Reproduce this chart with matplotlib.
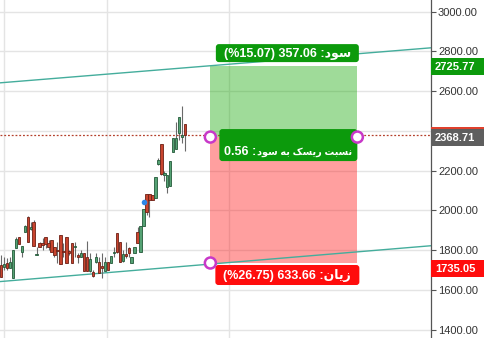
import matplotlib
matplotlib.use("Agg")
import matplotlib.pyplot as plt
from matplotlib.patches import FancyBboxPatch, Circle, Rectangle

W, H, DPI = 485, 338, 100

# Daily candles (index = bar number)
opens = [1725, 1717, 1733, 1712, 1658, 1809, 1864, 1792, 1893, 1968,
         1908, 1943, 1774, 1837, 1834, 1868, 1834, 1851, 1814, 1798,
         1874, 1793, 1864, 1792, 1837, 1814, 1775, 1767, 1784, 1767,
         1697, 1692, 1742, 1742, 1715, 1697, 1742, 1737, 1784, 1884,
         1842, 1747, 1778, 1809, 1733, 1784, 1893, 1792, 1921, 2081,
         2081, 2077, 2061, 2232, 2332, 2180, 2116, 2123, 2292, 2309,
         2389, 2371, 2434]
highs = [1775, 1767, 1759, 1767, 1800, 1868, 1868, 1821, 1926, 1972,
         1943, 1951, 1817, 1842, 1859, 1868, 1851, 1851, 1814, 1842,
         1876, 1834, 1868, 1800, 1837, 1842, 1784, 1800, 1784, 1848,
         1784, 1700, 1784, 1767, 1784, 1767, 1742, 1770, 1817, 1884,
         1842, 1800, 1842, 1817, 1767, 1817, 1918, 1921, 2005, 2081,
         2081, 2077, 2166, 2262, 2332, 2200, 2178, 2248, 2362, 2445,
         2470, 2525, 2434]
lows = [1666, 1700, 1700, 1708, 1658, 1809, 1831, 1767, 1893, 1842,
        1901, 1822, 1774, 1817, 1800, 1809, 1800, 1792, 1767, 1733,
        1730, 1767, 1733, 1775, 1733, 1767, 1733, 1767, 1697, 1697,
        1692, 1666, 1733, 1683, 1658, 1697, 1700, 1737, 1767, 1784,
        1738, 1742, 1759, 1767, 1733, 1784, 1834, 1792, 1921, 1977,
        1965, 2052, 2061, 2228, 2178, 2150, 2086, 2123, 2292, 2309,
        2354, 2339, 2300]
closes = [1666, 1730, 1708, 1738, 1800, 1854, 1831, 1821, 1921, 1842,
          1915, 1822, 1780, 1817, 1827, 1831, 1814, 1792, 1774, 1796,
          1730, 1791, 1733, 1787, 1733, 1821, 1764, 1784, 1697, 1697,
          1754, 1670, 1767, 1686, 1712, 1738, 1700, 1770, 1792, 1789,
          1738, 1779, 1772, 1784, 1767, 1817, 1837, 1921, 2005, 1993,
          2052, 2052, 2166, 2253, 2183, 2188, 2178, 2248, 2362, 2364,
          2470, 2379, 2379]

last_price = 2379.0

# Long position tool
entry_price = 2368.71
target_price = 2725.77
stop_price = 1735.05
position_start = 70.5
position_end = 120.0

# Parallel channel (two anchor points per line)
channel_x = [0, 140]
channel_lower = [1642, 1816]
channel_upper = [2642, 2812]

# Single marker
marker_x = 48.3
marker_price = 2040

# Axis setup
time_grid = [1.0, 35.7, 76.8]
price_ticks = [1400, 1600, 1800, 2000, 2200, 2400, 2600, 2800, 3000]
y_min, y_max = 1357.7, 3058.4
x_min, x_max = -0.34, 144.8

UP_FILL, UP_EDGE = "#55a274", "#245a3a"
DN_FILL, DN_EDGE = "#c8442e", "#6e2015"
WICK = "#6a6a6a"
GREEN = "#0c9a0c"
RED = "#ff0d0d"
ANCHOR = "#c838c8"

fig = plt.figure(figsize=(W / DPI, H / DPI), dpi=DPI)
ax = fig.add_axes([0, 0, 431 / W, 1])
ax.set_xlim(x_min, x_max)
ax.set_ylim(y_min, y_max)
ax.set_facecolor("white")

# grid
ax.set_xticks(time_grid)
ax.set_yticks(price_ticks)
ax.grid(True, color="#e4e4e4", linewidth=1.0, zorder=0)
ax.set_axisbelow(True)
ax.tick_params(axis="x", length=0, labelbottom=False)
ax.yaxis.tick_right()
ax.tick_params(axis="y", direction="out", length=3.5, width=0.8, color="#555555",
               labelsize=8, labelcolor="#333333", pad=1.5)
ax.set_yticklabels([f"{t:.2f}" for t in price_ticks], family="Liberation Sans")
for s in ("left", "top", "bottom"):
    ax.spines[s].set_visible(False)
ax.spines["right"].set_color("#555555")
ax.spines["right"].set_linewidth(0.9)

# px -> price unit
px_price = (y_max - y_min) / H

# the scale label that sits under the entry-price tag is not drawn
for t, lab in zip(price_ticks, ax.get_yticklabels()):
    if abs(t - entry_price) < 10 * px_price:
        lab.set_visible(False)

# position zones
ax.fill_between([position_start, position_end], entry_price, target_price,
                color="#11a700", alpha=0.40, linewidth=0, zorder=1)
ax.fill_between([position_start, position_end], stop_price, entry_price,
                color="#ff1111", alpha=0.40, linewidth=0, zorder=1)

# channel
ax.axline((channel_x[0], channel_lower[0]), (channel_x[1], channel_lower[1]),
          color="#44ad9c", linewidth=1.0, zorder=2)
ax.axline((channel_x[0], channel_upper[0]), (channel_x[1], channel_upper[1]),
          color="#44ad9c", linewidth=1.0, zorder=2)

# last price line
ax.axhline(last_price, color="#b5402c", linewidth=0.9, linestyle=(0, (1.5, 1.5)), zorder=2)

# candles
for i, (o, h, l, c) in enumerate(zip(opens, highs, lows, closes)):
    up = c >= o
    ax.vlines(i, l, h, color=WICK, linewidth=0.8, zorder=3)
    body = max(abs(c - o), px_price * 1.2)
    ax.bar(i, body, bottom=min(o, c), width=0.8,
           color=UP_FILL if up else DN_FILL,
           edgecolor=UP_EDGE if up else DN_EDGE, linewidth=0.6, zorder=4)

ax.scatter([marker_x], [marker_price], s=16, color="#2d86e6", zorder=5, linewidths=0)

# overlay in pixel coordinates for labels / anchors
ov = fig.add_axes([0, 0, 1, 1])
ov.set_xlim(0, W)
ov.set_ylim(H, 0)
ov.axis("off")


def to_px(x, y):
    X, Y = ax.transData.transform((x, y))
    return X, H - Y


xl, y_entry = to_px(position_start, entry_price)
xr, _ = to_px(position_end, entry_price)
_, y_tp = to_px(position_start, target_price)
_, y_sl = to_px(position_start, stop_price)
cx = (xl + xr) / 2 + 3.5

profit = target_price - entry_price
loss = entry_price - stop_price
profit_pct = profit / entry_price * 100
loss_pct = loss / entry_price * 100
ratio = profit / loss

SUD = "\uFEA9\uFEEE\uFEB3"
ZIAN = "\uFEE5\uFE8E\uFBFE\uFEAF"
BE = "\uFEEA\uFE91"
RISK = "\uFB8F\uFEB4\uFBFE\uFEAD"
NESBAT = "\uFE96\uFE92\uFEB4\uFEE7"

top_text = f"(%{profit_pct:.2f}) {profit:.2f} :" + SUD
mid_word = SUD + " " + BE + " " + RISK + " " + NESBAT
mid_num = f"{ratio:.2f} :"
bot_text = f"(%{loss_pct:.2f}) {loss:.2f} :" + ZIAN

FONT = ["Liberation Sans", "DejaVu Sans"]
renderer = fig.canvas.get_renderer()


def box(xc, ytop, w, h, color):
    ov.add_patch(FancyBboxPatch((xc - w / 2, ytop), w, h,
                                boxstyle="round,pad=0,rounding_size=3",
                                facecolor=color, edgecolor="none", zorder=10))


def label_box(xc, ytop, w, h, color, text, ytext, size=9):
    box(xc, ytop, w, h, color)
    ov.text(xc, ytext, text, color="white", fontsize=size, fontweight="bold",
            family=FONT, ha="center", va="center", zorder=11)


label_box(cx, y_tp - 22, 143, 18, GREEN, top_text, y_tp - 12.5)
label_box(cx, y_sl + 2, 144, 20, RED, bot_text, y_sl + 12)

# risk/reward tag: words sized to fit, number set beside them
mid_cx, mid_w = cx + 1, 138
box(mid_cx, y_entry - 8, mid_w, 32, GREEN)
word_t = ov.text(mid_cx + mid_w / 2 - 5, y_entry + 14.5, mid_word, color="white",
                 fontsize=8, fontweight="bold", family=FONT,
                 ha="right", va="center", zorder=11)
w8 = word_t.get_window_extent(renderer).width
word_t.set_fontsize(8 * 96 / w8)
word_left = word_t.get_window_extent(renderer).x0
ov.text(word_left - 1, y_entry + 14.5, mid_num, color="white", fontsize=9,
        fontweight="bold", family=FONT, ha="right", va="center", zorder=11)

# anchors
for (ax_x, ax_y) in [(xl, y_entry), (xr, y_entry), (xl, y_sl)]:
    ov.add_patch(Circle((ax_x, ax_y), 5.5, facecolor="white", edgecolor=ANCHOR,
                        linewidth=1.8, zorder=12))

# price-scale labels
x_scale = 431.5
_, y_last = to_px(0, last_price)


def scale_label(y, color, text, dy=0.0, ztop=13):
    ov.add_patch(Rectangle((x_scale, y + dy - 8.5), W - x_scale, 17,
                           facecolor=color, edgecolor="none", zorder=ztop))
    if text:
        ov.text(x_scale + 3.5, y + dy + 0.5, text, color="white", fontsize=8,
                fontweight="bold", family=FONT, ha="left", va="center", zorder=ztop + 1)


scale_label(y_last, "#e0402c", "", ztop=13)
scale_label(y_entry, "#5e5e5e", f"{entry_price:.2f}", ztop=15)
scale_label(y_tp, GREEN, f"{target_price:.2f}", ztop=15)
scale_label(y_sl, RED, f"{stop_price:.2f}", dy=5.5, ztop=15)

fig.savefig("out.png", dpi=DPI)
